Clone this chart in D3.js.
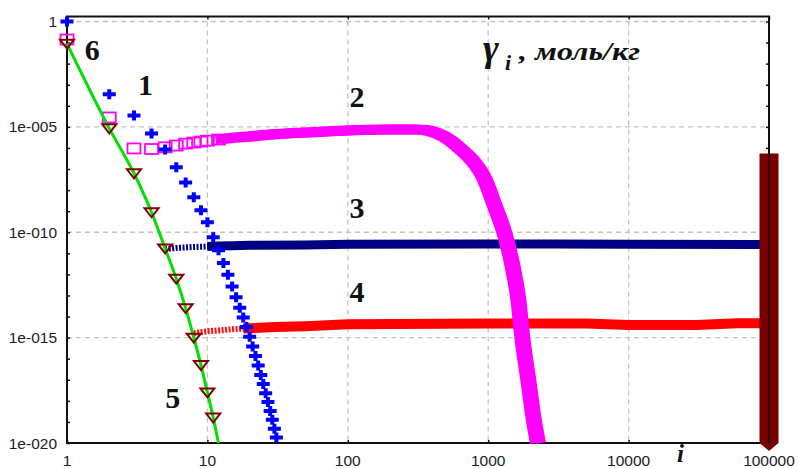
<!DOCTYPE html>
<html>
<head>
<meta charset="utf-8">
<script src="https://cdn.jsdelivr.net/npm/d3@7"></script>
<style>
  body { margin: 0; background: #fff; }
</style>
</head>
<body>
<div id="container"></div>
<script>
// ---- data ----
const xTicks = [1, 10, 100, 1000, 10000, 100000];
const xTickLabels = ["1", "10", "100", "1000", "10000", "100000"];
const yTicks = [1, 1e-5, 1e-10, 1e-15, 1e-20];
const yTickLabels = ["1", "1e-005", "1e-010", "1e-015", "1e-020"];

// 1 - blue crosses
const i1 = [1,2,3,4,5,6,7,8,9,10,11,12,13,14,15,16,17,18,19,20,21,22,23,24,25,26,27,28,29,30,31];
const g1 = [1,3.5e-4,3.5e-5,4.9e-6,8.5e-7,1.2e-7,2.3e-8,4.6e-9,1.1e-9,3.0e-10,5.8e-11,1.4e-11,3.5e-12,9.5e-13,2.7e-13,
  8.3e-14,2.6e-14,8.9e-15,3.2e-15,1.1e-15,3.8e-16,1.35e-16,4.8e-17,1.7e-17,6.3e-18,2.3e-18,8.7e-19,3.3e-19,1.26e-19,4.8e-20,1.8e-20];

// 2 - magenta squares
const i2 = [1,2,3,4,5,6,7,8,9,10,12,15,20,30,50,100,200,300,355,430,535,650,770,950,1110,1320,1500,1640,1750,1930,2090,2260];
const g2 = [1.4e-1,2.8e-5,9.5e-7,8.9e-7,1.07e-6,1.3e-6,1.6e-6,1.8e-6,2.0e-6,2.2e-6,2.5e-6,3.0e-6,3.5e-6,4.5e-6,5.4e-6,
  6.8e-6,7.6e-6,7.6e-6,7.1e-6,5.0e-6,2.3e-6,7.8e-7,2.6e-7,3.0e-8,1.9e-9,7.2e-11,2.0e-12,6.3e-14,1.0e-15,1.0e-17,2.0e-19,1.0e-20];

// 3 - navy
const i3 = [5,6,7,8,10,12,15,20,50,100,1000,3000,10000,100000];
const g3 = [1.6e-11,1.8e-11,1.9e-11,2.0e-11,2.1e-11,2.2e-11,2.3e-11,2.4e-11,2.5e-11,2.7e-11,2.8e-11,2.8e-11,2.7e-11,2.6e-11];

// 4 - red
const i4 = [8,9,10,12,15,18,20,30,50,100,1000,5000,10000,30000,60000,100000];
const g4 = [1.6e-15,1.8e-15,2.0e-15,2.2e-15,2.5e-15,2.7e-15,2.8e-15,3.2e-15,3.5e-15,4.3e-15,4.7e-15,4.7e-15,4.0e-15,4.0e-15,4.8e-15,4.8e-15];

// 5 - green line with triangles
const i5 = [1,2,3,4,5,6,7,8,9,10,11,12];
const g5 = [8.9e-2,8.5e-6,6.3e-8,8.9e-10,1.7e-11,6.3e-13,2.5e-14,1.0e-15,5.0e-17,2.5e-18,1.6e-19,1.0e-20];

// 6 - dark red column at the last i
const i6 = 100000;
const g6 = [1e-20, 5.5e-7];

const seriesLabels = [
  {t:"6", i:1.34, g:1.5e-2},
  {t:"1", i:3.2, g:3.2e-4},
  {t:"2", i:103, g:8.7e-5},
  {t:"3", i:103, g:4.7e-10},
  {t:"4", i:103, g:5e-14},
  {t:"5", i:5.0, g:4.6e-19}
];

// ---- drawing ----
let svg = d3.select("#container")
  .append("svg")
  .attr("width", 798)
  .attr("height", 469);

let x = d3.scaleLog().domain([1, 100000]).range([67, 769]);
let y = d3.scaleLog().domain([1e-20, 1]).range([443, 21.5]);
let decades = d3.range(0, 21).map(k => Math.pow(10, -k));

// grid
svg.selectAll(".hgrid").data(yTicks.slice(0, 4)).enter()
  .append("line")
  .attr("class", "hgrid")
  .attr("x1", 67).attr("x2", 769)
  .attr("y1", d => y(d)).attr("y2", d => y(d))
  .attr("stroke", "#c4c4c4")
  .attr("stroke-width", 1.3)
  .attr("stroke-dasharray", "5,4");
svg.selectAll(".vgrid").data(xTicks.slice(1, 5)).enter()
  .append("line")
  .attr("class", "vgrid")
  .attr("x1", d => x(d)).attr("x2", d => x(d))
  .attr("y1", 21.5).attr("y2", 443)
  .attr("stroke", "#c4c4c4")
  .attr("stroke-width", 1.3)
  .attr("stroke-dasharray", "5,4");

// frame + ticks
svg.append("rect")
  .attr("x", 67).attr("y", 16.5)
  .attr("width", 702).attr("height", 426.5)
  .attr("fill", "none")
  .attr("stroke", "#111")
  .attr("stroke-width", 2);

function minorTicks(g) { g.select(".domain").remove(); g.selectAll("line").attr("stroke", "#111").attr("stroke-width", 1.5); }
svg.append("g").attr("transform", "translate(67,0)")
  .call(d3.axisRight(y).tickValues(decades).tickSize(3).tickFormat(""))
  .call(minorTicks);
svg.append("g").attr("transform", "translate(769,0)")
  .call(d3.axisLeft(y).tickValues(decades).tickSize(3).tickFormat(""))
  .call(minorTicks);
svg.append("g").attr("transform", "translate(0,443)")
  .call(d3.axisTop(x).tickValues(xTicks).tickSize(3).tickFormat(""))
  .call(minorTicks);
svg.append("g").attr("transform", "translate(0,16.5)")
  .call(d3.axisBottom(x).tickValues(xTicks).tickSize(3).tickFormat(""))
  .call(minorTicks);

// tick labels
svg.selectAll(".ylab").data(yTicks).enter()
  .append("text")
  .attr("class", "ylab")
  .text((d, k) => yTickLabels[k])
  .attr("x", 57)
  .attr("y", d => y(d) + 5.5)
  .attr("text-anchor", "end")
  .attr("font-family", "Liberation Sans")
  .attr("font-size", 15.5)
  .attr("fill", "#222");
svg.selectAll(".xlab").data(xTicks).enter()
  .append("text")
  .attr("class", "xlab")
  .text((d, k) => xTickLabels[k])
  .attr("x", d => x(d))
  .attr("y", 466)
  .attr("text-anchor", "middle")
  .attr("font-family", "Liberation Sans")
  .attr("font-size", 15.5)
  .attr("fill", "#222");

let line = d3.line().x(d => x(d[0])).y(d => y(d[1]));
let zip = (a, b) => a.map((v, k) => [v, b[k]]);

// 3 navy
let p3 = zip(i3, g3);
svg.append("path")
  .datum(p3.filter(d => d[0] <= 12))
  .attr("d", line)
  .attr("fill", "none")
  .attr("stroke", "#000080")
  .attr("stroke-width", 6)
  .attr("stroke-dasharray", "2,1.5");
svg.append("path")
  .datum(p3.filter(d => d[0] >= 10))
  .attr("d", line)
  .attr("fill", "none")
  .attr("stroke", "#000080")
  .attr("stroke-width", 9);

// 4 red
let p4 = zip(i4, g4);
svg.append("path")
  .datum(p4.filter(d => d[0] <= 20))
  .attr("d", line)
  .attr("fill", "none")
  .attr("stroke", "#ff1010")
  .attr("stroke-width", 6)
  .attr("stroke-dasharray", "2,1.5");
svg.append("path")
  .datum(p4.filter(d => d[0] >= 18))
  .attr("d", line)
  .attr("fill", "none")
  .attr("stroke", "#ff0000")
  .attr("stroke-width", 10);

// 2 magenta: band of overlapping squares, drawn as two shifted strokes
let p2 = zip(i2, g2);
[-3, 3].forEach(dx => {
  svg.append("path")
    .datum(p2.filter(d => d[0] >= 12))
    .attr("transform", "translate(" + dx + ",0)")
    .attr("d", line.curve(d3.curveMonotoneX))
    .attr("fill", "none")
    .attr("stroke", "#ff00ff")
    .attr("stroke-width", 10);
});
line.curve(d3.curveLinear);
svg.selectAll(".sq").data(p2.filter(d => d[0] <= 12)).enter()
  .append("rect")
  .attr("class", "sq")
  .attr("x", d => x(d[0]) - 6.5)
  .attr("y", d => y(d[1]) - 5)
  .attr("width", 13)
  .attr("height", 10)
  .attr("fill", "none")
  .attr("stroke", "#ff00ff")
  .attr("stroke-width", 1.8);

// 1 blue crosses
svg.selectAll(".plus").data(zip(i1, g1)).enter()
  .append("path")
  .attr("class", "plus")
  .attr("transform", d => "translate(" + x(d[0]) + "," + y(d[1]) + ")")
  .attr("d", "M-6.5,0H6.5M0,-5V5")
  .attr("stroke", "#0000ff")
  .attr("stroke-width", 4);

// 5 green + triangles
let p5 = zip(i5, g5);
svg.append("path")
  .datum(p5)
  .attr("d", line.curve(d3.curveMonotoneX))
  .attr("fill", "none")
  .attr("stroke", "#00e000")
  .attr("stroke-width", 3);
line.curve(d3.curveLinear);
svg.selectAll(".tri").data(p5.slice(0, 11)).enter()
  .append("path")
  .attr("class", "tri")
  .attr("transform", d => "translate(" + x(d[0]) + "," + y(d[1]) + ")")
  .attr("d", "M-7,-4H7L0,5Z")
  .attr("fill", "none")
  .attr("stroke", "#800000")
  .attr("stroke-width", 2);

// 6 dark red column
svg.append("line")
  .attr("x1", x(i6)).attr("x2", x(i6))
  .attr("y1", y(g6[0])).attr("y2", y(g6[1]))
  .attr("stroke", "#7a0000")
  .attr("stroke-width", 19);
svg.append("path")
  .attr("transform", "translate(" + x(i6) + "," + y(g6[0]) + ")")
  .attr("d", "M-9.5,0H9.5L0,8Z")
  .attr("fill", "#7a0000");
svg.append("line")
  .attr("x1", x(i6)).attr("x2", x(i6))
  .attr("y1", 16.5).attr("y2", 443)
  .attr("stroke", "#111")
  .attr("stroke-width", 1.5);

// series numbers
svg.selectAll(".num").data(seriesLabels).enter()
  .append("text")
  .attr("class", "num")
  .text(d => d.t)
  .attr("x", d => x(d.i))
  .attr("y", d => y(d.g))
  .attr("font-family", "Liberation Serif")
  .attr("font-weight", "bold")
  .attr("font-size", 30)
  .attr("fill", "#111");

// title and axis name
svg.append("text")
  .text("γ")
  .attr("x", 483)
  .attr("y", 61)
  .attr("font-family", "Liberation Serif")
  .attr("font-weight", "bold")
  .attr("font-style", "italic")
  .attr("font-size", 38)
  .attr("fill", "#111");
svg.append("text")
  .text("i")
  .attr("x", 505)
  .attr("y", 70)
  .attr("font-family", "Liberation Serif")
  .attr("font-weight", "bold")
  .attr("font-style", "italic")
  .attr("font-size", 22)
  .attr("fill", "#111");
svg.append("text")
  .text(", моль/кг")
  .attr("x", 519)
  .attr("y", 60)
  .attr("textLength", 121)
  .attr("lengthAdjust", "spacingAndGlyphs")
  .attr("font-family", "Liberation Serif")
  .attr("font-weight", "bold")
  .attr("font-style", "italic")
  .attr("font-size", 26)
  .attr("fill", "#111");

svg.append("text")
  .text("i")
  .attr("x", 677)
  .attr("y", 462)
  .attr("font-family", "Liberation Serif")
  .attr("font-weight", "bold")
  .attr("font-style", "italic")
  .attr("font-size", 25)
  .attr("fill", "#111");
</script>
</body>
</html>
